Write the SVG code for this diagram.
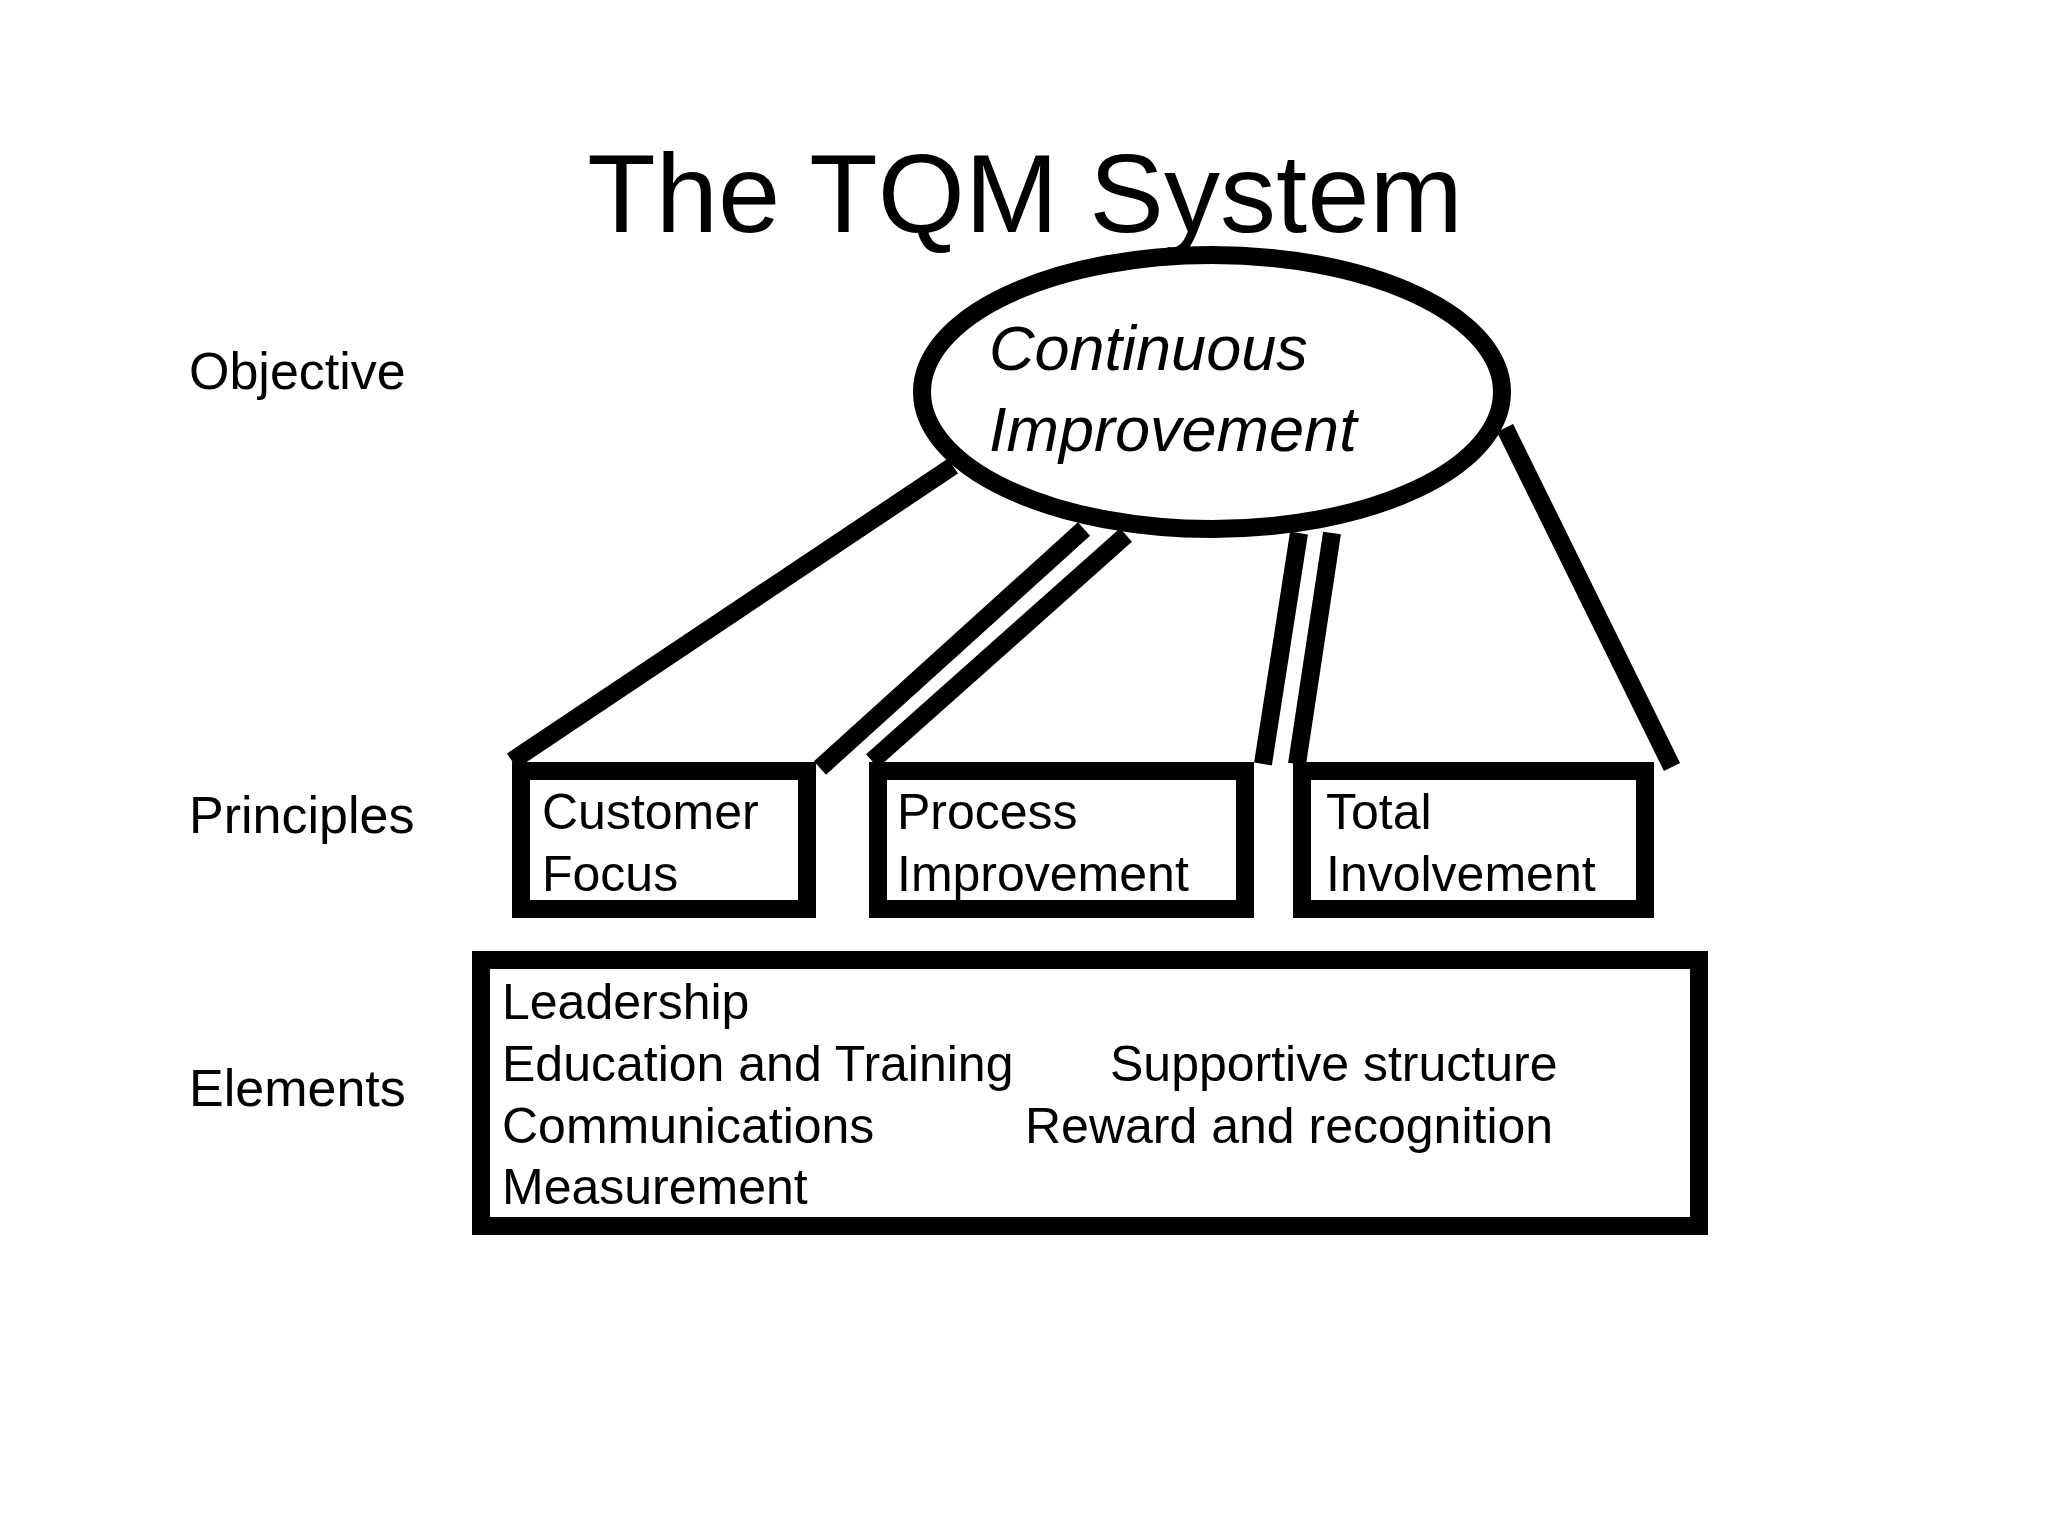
<svg xmlns="http://www.w3.org/2000/svg" width="2048" height="1536" viewBox="0 0 2048 1536">
<style>
.t{font-family:"Liberation Sans",Arial,sans-serif;fill:#000}
.lab{font-size:52px}
.bx{font-size:50px}
.s{fill:none;stroke:#000;stroke-width:18}
</style>
<rect width="2048" height="1536" fill="#fff"/>
<text class="t" x="1025" y="232" font-size="112" text-anchor="middle" font-family="Open Sans, sans-serif">The TQM System</text>
<text class="t lab" x="189" y="389">Objective</text>
<text class="t lab" x="189" y="833">Principles</text>
<text class="t lab" x="189" y="1106">Elements</text>
<g id="connectors" class="s">
<line x1="953" y1="466" x2="512" y2="761"/>
<line x1="1084" y1="529" x2="820" y2="768"/>
<line x1="1126" y1="535" x2="872" y2="761"/>
<line x1="1299" y1="533" x2="1263" y2="764"/>
<line x1="1332" y1="533" x2="1297" y2="764"/>
<line x1="1505" y1="428" x2="1672" y2="767"/>
</g>
<g id="objective">
<ellipse class="s" cx="1212" cy="392" rx="290" ry="137" fill="#fff"/>
<text class="t" x="989" y="370" font-size="63" font-style="italic">Continuous</text>
<text class="t" x="989" y="451" font-size="63" font-style="italic">Improvement</text>
</g>
<g id="customer">
<rect class="s" x="521" y="771" width="286" height="138"/>
<text class="t bx" x="542" y="829">Customer</text>
<text class="t bx" x="542" y="891">Focus</text>
</g>
<g id="process">
<rect class="s" x="878" y="771" width="367" height="138"/>
<text class="t bx" x="897" y="829">Process</text>
<text class="t bx" x="897" y="891">Improvement</text>
</g>
<g id="total">
<rect class="s" x="1302" y="771" width="343" height="138"/>
<text class="t bx" x="1326" y="829">Total</text>
<text class="t bx" x="1326" y="891">Involvement</text>
</g>
<g id="elements">
<rect class="s" x="481" y="960" width="1218" height="266"/>
<text class="t bx" x="502" y="1019">Leadership</text>
<text class="t bx" x="502" y="1081">Education and Training</text>
<text class="t bx" x="502" y="1143">Communications</text>
<text class="t bx" x="502" y="1204">Measurement</text>
<text class="t bx" x="1110" y="1081">Supportive structure</text>
<text class="t bx" x="1025" y="1143">Reward and recognition</text>
</g>
</svg>
